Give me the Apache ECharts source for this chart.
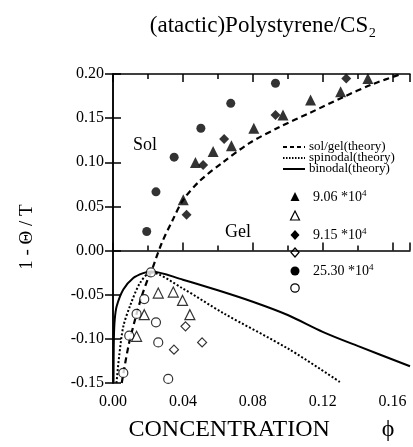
<!DOCTYPE html>
<html>
<head>
<meta charset="utf-8">
<script src="https://cdn.jsdelivr.net/npm/echarts@6/dist/echarts.min.js"></script>
<style>
  html, body { margin: 0; padding: 0; background: #fff; }
  #chart { width: 413px; height: 447px; }
</style>
</head>
<body>
<div id="chart"></div>
<script>
// data: [concentration, 1 - Theta/T]
var solGel = [[0.005, -0.15], [0.0088, -0.1085], [0.0126, -0.0783], [0.0164, -0.052],
  [0.0202, -0.031], [0.0217, -0.0248], [0.0278, 0.008], [0.0345, 0.036], [0.0402, 0.0575],
  [0.0497, 0.079], [0.0629, 0.100], [0.0783, 0.122], [0.0954, 0.140], [0.1126, 0.1559],
  [0.1314, 0.1735], [0.1486, 0.1885], [0.165, 0.2]];
var spinodal = [[0.002, -0.15], [0.0035, -0.12], [0.0059, -0.086], [0.0097, -0.063], [0.0154, -0.037],
  [0.0217, -0.0248], [0.04, -0.043], [0.063, -0.0707], [0.101, -0.112], [0.1307, -0.15]];
var binodal = [[0.0003, -0.15], [0.0005, -0.1], [0.001, -0.078], [0.0021, -0.063], [0.0059, -0.044],
  [0.0116, -0.031], [0.0173, -0.0255], [0.0217, -0.0236], [0.04, -0.033], [0.06, -0.045],
  [0.08, -0.058], [0.10, -0.073], [0.12, -0.092], [0.14, -0.108], [0.17, -0.131]];

var tri906 = [[0.0402, 0.0575], [0.0472, 0.0997], [0.0573, 0.1121], [0.0678, 0.1186], [0.0806, 0.1386],
  [0.0973, 0.1536], [0.1131, 0.1706], [0.1303, 0.180], [0.1459, 0.195]];
var triOpen906 = [[0.0259, -0.0481], [0.0345, -0.047], [0.0398, -0.0565], [0.0179, -0.0726],
  [0.044, -0.0726], [0.0135, -0.0971]];
var dia915 = [[0.0421, 0.0405], [0.0516, 0.097], [0.0636, 0.1265], [0.093, 0.1536], [0.1335, 0.195]];
var diaOpen915 = [[0.0415, -0.0858], [0.051, -0.104], [0.0349, -0.1122]];
var cir2530 = [[0.093, 0.1895], [0.0674, 0.1668], [0.0503, 0.1386], [0.035, 0.1058], [0.0246, 0.0665],
  [0.0193, 0.0216]];
var cirOpen2530 = [[0.0217, -0.0248], [0.0179, -0.0549], [0.0135, -0.0718], [0.0093, -0.0964],
  [0.0246, -0.0813], [0.0259, -0.104], [0.0059, -0.1386], [0.0316, -0.1454]];

var serif = '"Liberation Serif", "DejaVu Serif", serif';
var black = '#000';

var myChart = echarts.init(document.getElementById('chart'));

function xAx(pos, step, len, labels) {
  return {
    type: 'value', position: pos, min: 0, max: 0.17, interval: step,
    axisLine: { show: labels !== null, lineStyle: { color: black, width: 1.5 } },
    axisTick: { inside: true, length: len, lineStyle: { color: black, width: 1.5 } },
    axisLabel: labels ? {
      show: true, color: black, fontFamily: serif, fontSize: 16, margin: 11,
      formatter: function (v) {
        var k = v / 0.04;
        return Math.abs(k - Math.round(k)) < 1e-6 ? v.toFixed(2) : '';
      }
    } : { show: false },
    splitLine: { show: false }
  };
}

function yAx(pos, labels) {
  return {
    type: 'value', position: pos, min: -0.15, max: 0.2, interval: 0.05,
    axisLine: { show: true, lineStyle: { color: black, width: 1.5 } },
    axisTick: { inside: true, length: 8, lineStyle: { color: black, width: 1.5 } },
    axisLabel: labels ? {
      show: true, color: black, fontFamily: serif, fontSize: 16, margin: 9,
      formatter: function (v) { return Math.abs(v) < 1e-9 ? '0.00' : v.toFixed(2); }
    } : { show: false },
    splitLine: { show: false }
  };
}

var xMain = xAx('bottom', 0.04, 8, true);
xMain.name = 'CONCENTRATION{g|}\u03d5';
xMain.nameLocation = 'middle';
xMain.nameGap = 35;
xMain.nameTextStyle = { color: black, fontFamily: serif, fontSize: 24, rich: { g: { width: 52 } } };

function lineS(name, data, type, width) {
  return {
    name: name, type: 'line', data: data, smooth: 0.3, showSymbol: false, xAxisIndex: 0, yAxisIndex: 0,
    lineStyle: { color: black, width: width, type: type }, z: 2, silent: true
  };
}

function dots(name, data, symbol, size, open) {
  return {
    name: name, type: 'scatter', data: data, symbol: symbol, symbolSize: size, xAxisIndex: 0, yAxisIndex: 0,
    itemStyle: open ? { color: '#fff', borderColor: black, borderWidth: 1.2 } : { color: black },
    z: 5
  };
}

var lgText = { fill: black, fontFamily: serif, fontSize: 13 };
var sup = { rich: { s: { fontSize: 9, verticalAlign: 'top', fontFamily: serif, padding: [0, 0, 7, 0] } } };

function lgLine(y, dash, w) {
  return { type: 'line', shape: { x1: 283, y1: y, x2: 305, y2: y }, style: { stroke: black, lineWidth: w, lineDash: dash } };
}
function lgLabel(x, y, txt, size) {
  var st = Object.assign({ text: txt, verticalAlign: 'middle' }, lgText, sup);
  if (size) st.fontSize = size;
  return { type: 'text', x: x, y: y, style: st };
}

var option = {
  backgroundColor: '#fff',
  animation: false,
  title: {
    text: '(atactic)Polystyrene/CS\u2082', left: 258, top: 9, textAlign: 'center',
    textStyle: { color: black, fontFamily: serif, fontSize: 23, fontWeight: 'normal' }
  },
  grid: { left: 113, right: 1, top: 74, bottom: 64 },
  xAxis: [xMain, xAx('bottom', 0.02, 5, null), xAx('top', 0.04, 8, false), xAx('top', 0.02, 5, null)],
  yAxis: [yAx('left', true), yAx('right', false)],
  series: [
    lineS('sol/gel(theory)', solGel, [6, 4], 2.2),
    lineS('spinodal(theory)', spinodal, [2, 2], 2),
    lineS('binodal(theory)', binodal, 'solid', 2),
    dots('9.06', tri906, 'triangle', 11, false),
    dots('9.06 open', triOpen906, 'triangle', 10, true),
    dots('9.15', dia915, 'diamond', 10, false),
    dots('9.15 open', diaOpen915, 'diamond', 9, true),
    dots('25.30', cir2530, 'circle', 9, false),
    dots('25.30 open', cirOpen2530, 'circle', 9, true)
  ],
  graphic: [
    { type: 'text', x: 27, y: 237, rotation: Math.PI / 2,
      style: { text: '1 - \u0398 / T', fill: black, fontFamily: serif, fontSize: 19, align: 'center', verticalAlign: 'middle' } },
    { type: 'text', x: 133, y: 145, style: { text: 'Sol', fill: black, fontFamily: serif, fontSize: 18, verticalAlign: 'middle' } },
    { type: 'text', x: 225, y: 232, style: { text: 'Gel', fill: black, fontFamily: serif, fontSize: 18, verticalAlign: 'middle' } },
    lgLine(147, [4, 3], 2), lgLabel(309, 147, 'sol/gel(theory)'),
    lgLine(158, [1.5, 1.5], 2), lgLabel(309, 158, 'spinodal(theory)'),
    lgLine(169, null, 2), lgLabel(309, 169, 'binodal(theory)'),
    { type: 'polygon', shape: { points: [[295, 192], [299.5, 201], [290.5, 201]] }, style: { fill: black } },
    lgLabel(313, 197, '9.06 *10{s|4}', 14),
    { type: 'polygon', shape: { points: [[295, 211], [299.5, 220], [290.5, 220]] }, style: { fill: '#fff', stroke: black, lineWidth: 1.2 } },
    { type: 'polygon', shape: { points: [[295, 230], [299.5, 235], [295, 240], [290.5, 235]] }, style: { fill: black } },
    lgLabel(313, 235, '9.15 *10{s|4}', 14),
    { type: 'polygon', shape: { points: [[295, 248], [299, 252.5], [295, 257], [291, 252.5]] }, style: { fill: '#fff', stroke: black, lineWidth: 1.2 } },
    { type: 'circle', shape: { cx: 295, cy: 271, r: 4.5 }, style: { fill: black } },
    lgLabel(313, 271, '25.30 *10{s|4}', 14),
    { type: 'circle', shape: { cx: 295, cy: 288, r: 4.2 }, style: { fill: '#fff', stroke: black, lineWidth: 1.2 } }
  ]
};

myChart.setOption(option);
</script>
</body>
</html>
